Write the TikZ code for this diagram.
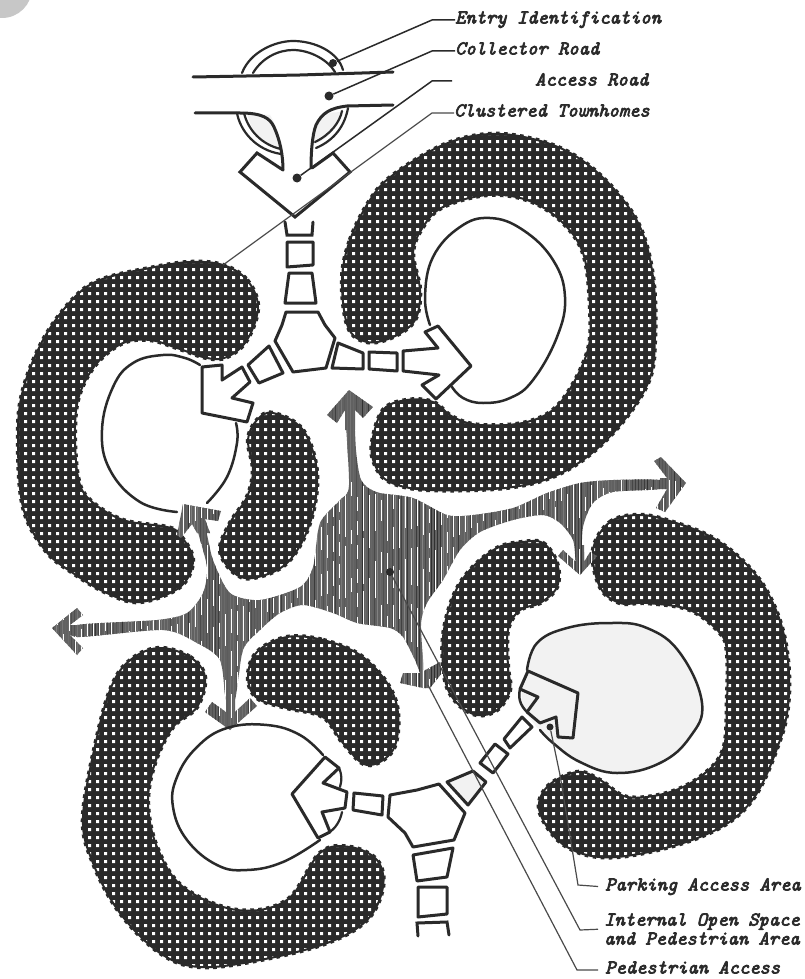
\documentclass[tikz,border=0pt]{standalone}
\usepackage{fontspec}
\definecolor{ink}{HTML}{2A2A2A}
\definecolor{leafgray}{HTML}{F2F2F2}
\newcommand{\labfont}{\fontsize{19.6}{19}\selectfont\ttfamily\itshape}
\newcommand{\heavy}[1]{\special{pdf:code q 2 Tr 0.7 w}#1\special{pdf:code Q}}
\tikzset{
  road/.style={draw=ink,line width=3pt,line join=round,fill=white},
  roadline/.style={draw=ink,line width=3pt,line cap=round},
  thickline/.style={draw=ink,line width=2.2pt,line cap=round},
  loopline/.style={draw=ink,line width=2.5pt,line cap=round},
  leader/.style={draw=ink!85,line width=1.2pt},
  leaderbold/.style={draw=ink,line width=1.5pt},
  dotend/.style={circle,fill=ink,inner sep=0pt,minimum size=9pt},
  lab/.style={inner sep=0pt,text=ink,font=\labfont,text height=10pt,text depth=3pt},
  lab2/.style={inner sep=0pt,text=ink,font=\labfont,align=left},
}
\def\blobA{plot[smooth cycle,tension=0.6] coordinates{(342,280)(350,240)(370,200)(393,175)(443,145)(490,134)(537,140)(577,157)(613,188)(640,227)(653,277)(655,337)(648,383)(613,433)(567,470)(513,487)(430,490)(390,482)(375,465)(372,443)(383,410)(407,400)(433,402)(453,417)(480,425)(527,422)(560,403)(587,353)(590,307)(583,253)(560,220)(527,200)(487,195)(443,207)(423,227)(413,253)(420,290)(415,320)(393,337)(367,342)(348,327)}}
\def\blobB{plot[smooth cycle,tension=0.6] coordinates{(223,265)(247,280)(258,307)(247,340)(227,357)(207,358)(177,348)(150,340)(123,343)(97,363)(80,393)(75,427)(78,477)(90,500)(123,520)(167,527)(180,535)(193,560)(180,587)(140,602)(107,593)(73,573)(45,550)(23,507)(18,437)(23,390)(43,340)(72,300)(100,280)(150,268)(190,262)}}
\def\blobC{plot[smooth cycle,tension=0.6] coordinates{(273,413)(303,430)(317,473)(310,523)(287,563)(253,578)(233,572)(220,550)(230,523)(247,497)(253,470)(248,440)(257,420)}}
\def\blobD{plot[smooth cycle,tension=0.6] coordinates{(523,542)(543,543)(557,563)(557,587)(540,603)(520,610)(508,630)(508,667)(510,690)(497,710)(477,715)(457,703)(445,680)(443,637)(453,597)(470,570)(497,548)}}
\def\blobE{plot[smooth cycle,tension=0.6] coordinates{(593,550)(610,522)(640,515)(673,522)(713,538)(747,565)(770,597)(785,640)(789,693)(780,740)(750,803)(700,837)(617,857)(567,847)(540,813)(547,787)(577,772)(600,780)(627,797)(667,793)(700,777)(723,750)(727,700)(727,653)(720,633)(690,610)(647,603)(620,603)(600,587)}}
\def\blobF{plot[smooth cycle,tension=0.6] coordinates{(160,648)(190,657)(205,677)(197,707)(173,727)(155,763)(148,803)(157,847)(183,887)(237,910)(287,900)(320,853)(350,847)(377,860)(383,887)(367,920)(327,943)(260,960)(200,967)(160,953)(120,913)(93,863)(83,817)(97,737)(113,683)(133,658)}}
\def\blobG{plot[smooth cycle,tension=0.6] coordinates{(287,637)(323,640)(360,655)(387,683)(398,713)(393,750)(367,765)(343,743)(323,717)(287,708)(257,698)(248,677)(257,652)}}
\def\allblobs{\blobA \blobB \blobC \blobD \blobE \blobF \blobG}
\def\openspace{plot[smooth cycle,tension=0.45] coordinates{(345,400)(353,400)(356,450)(360,477)(367,487)(380,493)(413,498)(447,515)(473,515)(513,508)(547,493)(580,483)(613,480)(660,480)(660,489)(613,492)(593,503)(583,527)(581,563)(576,563)(573,540)(560,523)(543,515)(513,520)(480,532)(460,550)(443,580)(427,603)(421,625)(424,680)(415,660)(403,637)(390,628)(357,623)(333,613)(303,605)(280,613)(260,630)(243,650)(235,700)(226,700)(220,660)(197,643)(163,630)(77,637)(77,625)(157,620)(187,613)(203,593)(207,567)(197,527)(205,527)(213,560)(230,593)(260,600)(300,587)(313,567)(320,523)(340,500)(349,485)}}
\def\arrowheads{(349,390)--(373,407)--(363,418)--(355,410)--(355,430)--(345,430)--(345,410)--(337,423)--(327,415)--cycle
 (686,483)--(665,512)--(656,508)--(667,489)--(660,489)--(660,478)--(667,478)--(654,461)--(661,457)--cycle
 (580,575)--(558,556)--(563,550)--(576,562)--(576,545)--(584,545)--(584,562)--(590,552)--(597,556)--cycle
 (400,683)--(403,673)--(420,673)--(440,662)--(442,673)--(430,688)--(423,688)--cycle
 (230,730)--(205,712)--(212,702)--(226,712)--(226,695)--(235,695)--(235,712)--(250,698)--(257,706)--cycle
 (52,628)--(77,608)--(83,615)--(70,625)--(85,625)--(85,635)--(70,635)--(83,648)--(77,655)--cycle
 (183,504)--(221,511)--(218,521)--(205,519)--(210,533)--(197,533)--(192,524)--(181,538)--(177,535)--cycle}
\begin{document}
\begin{tikzpicture}[x=1pt,y=-1pt]
\useasboundingbox (0,0) rectangle (804,979);
\fill[white] (0,0) rectangle (804,979);
% scan corner
\begin{scope}
\clip (0,0) rectangle (804,979);
\fill[black!22] (2,-12) circle (30);
\end{scope}

% dotted housing clusters
\fill[ink] \allblobs;
\draw[ink,line width=4.4pt,dash pattern=on 3.6pt off 4.4pt] \allblobs;
\begin{scope}
\clip \allblobs;
\foreach \yy in {132,140,...,972}{
  \fill[white] foreach \xx in {16,24,...,795}{(\xx,\yy) rectangle +(3.1,3.1)};
}
\end{scope}
\draw[ink,line width=2pt] \allblobs;

% internal open space
\begin{scope}
\clip \openspace \arrowheads;
\fill[black!62] (40,380) rectangle (700,740);
\pgfmathsetseed{11}
\foreach \xx in {44,47,...,692}{
  \pgfmathsetmacro{\gv}{48+rnd*34}
  \draw[black!\gv,line width=1pt] (\xx,380) -- (\xx,740);
}
\foreach \xx in {45,51,...,692}{
  \pgfmathsetmacro{\da}{14+rnd*40}
  \pgfmathsetmacro{\db}{6+rnd*28}
  \pgfmathsetmacro{\ys}{480+rnd*20}
  \draw[white,line width=0.6pt,dash pattern=on \da pt off \db pt] (\xx,\ys) -- (\xx,740);
}
\end{scope}

% parking loops
\draw[loopline] plot[smooth,tension=0.7] coordinates{(430,325)(425,297)(433,257)(460,227)(490,218)(523,230)(553,260)(565,297)(557,337)(533,380)(510,398)(483,403)(463,398)(452,387)};
\draw[loopline] plot[smooth,tension=0.7] coordinates{(200,365)(185,358)(163,355)(133,363)(113,387)(102,430)(110,470)(140,502)(177,512)};
\draw[loopline] plot[smooth,tension=0.7] coordinates{(207,503)(227,477)(237,443)(236,423)};
\fill[leafgray] plot[smooth cycle,tension=0.6] coordinates{(527,670)(537,643)(567,628)(610,623)(647,628)(680,653)(702,703)(690,737)(660,763)(617,773)(580,762)(553,743)(535,725)(522,700)};
\draw[loopline] plot[smooth,tension=0.7] coordinates{(527,670)(537,643)(567,628)(610,623)(647,628)(680,653)(702,703)(690,737)(660,763)(617,773)(580,762)(553,743)(540,730)};
\draw[loopline] (520,689) .. controls (518,698) and (520,705) .. (527,712);
\draw[loopline] plot[smooth,tension=0.7] coordinates{(323,755)(300,735)(267,725)(227,728)(197,747)(177,777)(173,807)(187,840)(217,865)(247,870)(283,862)(320,840)};
\draw[thickline] (339,768) .. controls (342,775) and (342,780) .. (340,787);
\draw[thickline] (342,812) .. controls (340,822) and (335,828) .. (330,832);

% upper pedestrian spine
\draw[road] (403,351)--(438,348)--(425,332)--(438,326)--(471,366)--(436,399)--(422,385)--(439,375)--(403,371)--cycle;
\draw[road] (369,352)--(397,353)--(397,371)--(369,369)--cycle;
\draw[road] (338,343)--(363,353)--(363,369)--(332,368)--cycle;
\draw[road] (286,312)--(318,312)--(325,325)--(335,338)--(326,368)--(293,372)--(275,341)--(282,325)--cycle;
\draw[road] (289,273)--(312,273)--(316,303)--(285,303)--cycle;
\draw[road] (287,242)--(313,242)--(313,265)--(287,267)--cycle;
\draw[roadline,fill=none] (285,222)--(287,235)--(312,235)--(313,222);
\draw[road] (248,365)--(269,346)--(283,373)--(259,383)--cycle;
\draw[road] (202,367)--(222,365)--(222,380)--(242,367)--(250,382)--(232,398)--(253,403)--(247,422)--(202,413)--cycle;

% lower pedestrian spine
\draw[road,fill=leafgray] (528,671)--(578,693)--(573,738)--(558,737)--(556,717)--(540,723)--(527,712)--(538,697)--(520,689)--cycle;
\draw[road] (522,717)--(532,727)--(510,748)--(504,739)--cycle;
\draw[road] (495,744)--(508,754)--(493,773)--(480,763)--cycle;
\draw[road,fill=leafgray] (473,771)--(486,782)--(468,805)--(447,782)--cycle;
\draw[road] (390,795)--(417,790)--(439,784)--(465,813)--(454,840)--(413,847)--(405,833)--(388,817)--cycle;
\draw[road] (354,793)--(383,796)--(382,815)--(353,810)--cycle;
\draw[road] (413,855)--(453,848)--(447,877)--(417,881)--cycle;
\draw[road] (418,887)--(447,887)--(447,914)--(418,917)--cycle;
\draw[roadline,fill=none] (418,936)--(417,923)--(447,922)--(449,935);
\draw[road] (325,757)--(339,768)--(323,783)--(347,792)--(345,808)--(322,812)--(330,832)--(318,838)--(292,794)--cycle;

% entry and roads
\fill[leafgray] (247,113)--(270,115) .. controls (278,128) and (282,145) .. (281,150) .. controls (265,147) and (252,135) .. (247,113) -- cycle;
\fill[leafgray] (342,112)--(323,113) .. controls (315,125) and (312,135) .. (312,145) .. controls (325,142) and (338,128) .. (342,112) -- cycle;
\draw[thickline] (242,73) .. controls (250,52) and (275,41) .. (293,41) .. controls (315,41) and (338,52) .. (343,70);
\draw[thickline] (253,73) .. controls (262,58) and (278,50) .. (293,50) .. controls (310,50) and (328,60) .. (335,72);
\draw[roadline] (193,77) -- (300,75) -- (393,72);
\draw[roadline] (195,113) -- (240,113) .. controls (262,113) and (270,118) .. (274,127) .. controls (280,140) and (283,155) .. (283,170);
\draw[roadline] (393,105) -- (347,106) .. controls (330,108) and (322,113) .. (316,125) .. controls (312,135) and (311,155) .. (311,168);
\draw[thickline] (237,113) .. controls (240,130) and (255,150) .. (281,154);
\draw[thickline] (244,113) .. controls (248,130) and (262,145) .. (281,149);
\draw[thickline] (348,108) .. controls (345,125) and (335,140) .. (316,148);
\draw[thickline] (342,111) .. controls (340,122) and (330,135) .. (315,142);
\draw[roadline] (283,170)--(257,153)--(240,172)--(295,217)--(350,172)--(333,153)--(312,168);

% labels
\node[lab,anchor=west] (entry) at (455,20) {\heavy{Entry Identification}};
\node[lab,anchor=west] (collector) at (455,51) {\heavy{Collector Road}};
\node[lab,anchor=west] (access) at (535,82) {\heavy{Access Road}};
\node[lab,anchor=west] (townhomes) at (454,113) {\heavy{Clustered Townhomes}};
\node[lab,anchor=west] (parking) at (605,887) {\heavy{Parking Access Area}};
\node[lab2,anchor=west] (internal) at (604,929) {\heavy{Internal Open Space}\\\heavy{and Pedestrian Area}};
\node[lab,anchor=west] (pedestrian) at (605,970) {\heavy{Pedestrian Access}};

% leaders
\node[dotend,minimum size=8pt] (dEntry) at (333,63) {};
\node[dotend] (dCollector) at (329,96) {};
\node[dotend] (dAccess) at (297,178) {};
\node[dotend,minimum size=7pt] (dParking) at (550,727) {};
\node[dotend,minimum size=8pt] (dInternal) at (390,572) {};
\coordinate (dTown) at (223,265);
\coordinate (dPed) at (428,685);
\coordinate (eEntry) at (432,20);
\coordinate (eCollector) at (432,51);
\coordinate (eAccess) at (432,81);
\coordinate (eAccessEnd) at (452,81);
\coordinate (eTown) at (432,113);
\coordinate (kParking) at (560,775);
\coordinate (eParking) at (578,885);
\coordinate (eInternal) at (580,930);
\coordinate (ePed) at (577,970);
\draw[leaderbold] (dEntry) -- (eEntry) -- (entry.west);
\draw[leaderbold] (dCollector) -- (eCollector) -- (collector.west);
\draw[leaderbold] (dAccess) -- (eAccess) -- (eAccessEnd);
\draw[leader] (dTown) -- (eTown) -- (townhomes.west);
\draw[leader,shorten >=7pt] (dParking) -- (kParking) -- (eParking) -- (parking.west);
\draw[leader,shorten >=6pt] (dInternal) -- (eInternal) -- (internal.west);
\draw[leader,shorten >=7pt] (dPed) -- (ePed) -- (pedestrian.west);
\end{tikzpicture}
\end{document}
